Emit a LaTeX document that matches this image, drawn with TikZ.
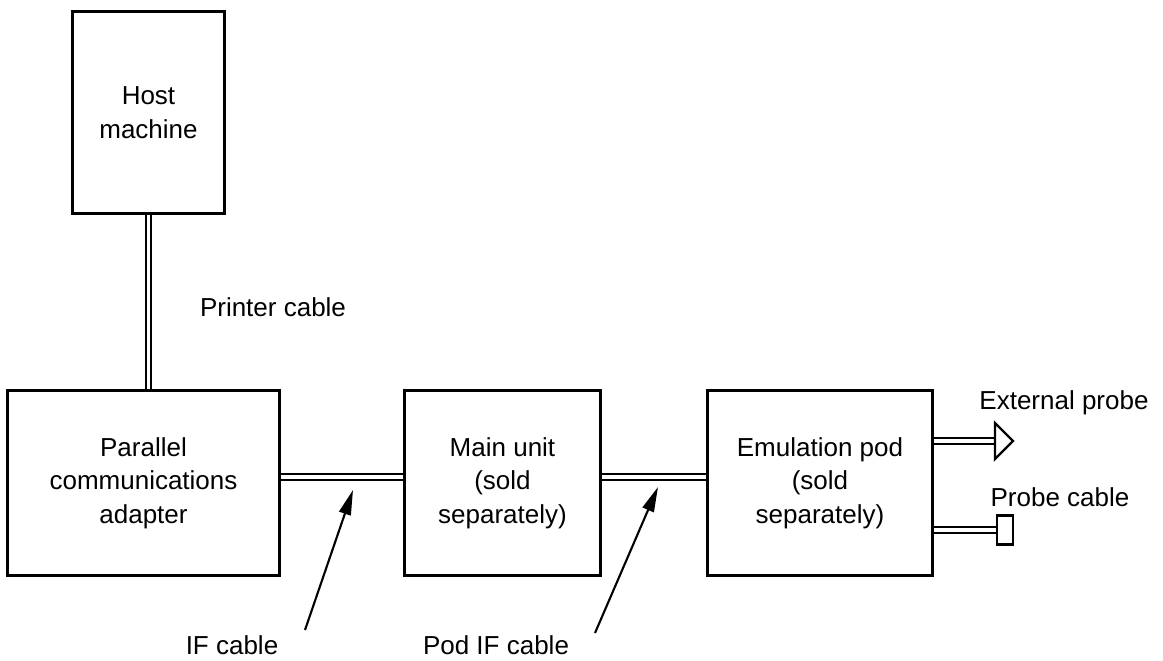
\documentclass[tikz,border=0pt]{standalone}
\usepackage{fontspec}
\setmainfont{Liberation Sans}
\usetikzlibrary{arrows.meta}

\begin{document}
\begin{tikzpicture}[x=0.02cm, y=-0.02cm,
    box/.style={draw, line width=1.7pt, align=center, inner sep=0pt,
      font=\fontsize{14.8}{19}\selectfont},
    lbl/.style={inner sep=0pt, font=\fontsize{14.8}{19}\selectfont},
    cable/.style={double, line width=1.2pt, double distance=2.1pt},
    pointer/.style={line width=1.2pt, -{Triangle[length=0.5cm,width=0.24cm]}}]
  \useasboundingbox (0,0) rectangle (1163,661);
  % units
  \node[box, minimum width=3.06cm, minimum height=4.06cm] (host) at (148.5,112.5) {Host\\machine};
  \node[box, minimum width=5.46cm, minimum height=3.72cm] (pca) at (143.5,483) {Parallel\\communications\\adapter};
  \node[box, minimum width=3.94cm, minimum height=3.72cm] (main) at (502.5,483) {Main unit\\(sold\\separately)};
  \node[box, minimum width=4.52cm, minimum height=3.72cm] (pod) at (820,483) {Emulation pod\\(sold\\separately)};
  \node[draw, line width=1.3pt, inner sep=0pt, minimum width=0.32cm, minimum height=0.58cm] (plug) at (1005,530) {};
  \coordinate (ext) at (995,441);
  % cables
  \draw[cable] (host.south) -- (host.south |- pca.north);
  \draw[cable] ([yshift=0.12cm]pca.east) -- ([yshift=0.12cm]main.west);
  \draw[cable] ([yshift=0.12cm]main.east) -- ([yshift=0.12cm]pod.east -| pod.west);
  \draw[cable] (pod.east |- ext) -- (ext);
  \draw[cable] (pod.east |- plug.west) -- (plug.west);
  \draw[line width=1.3pt, line join=miter] (ext) -- ++(0,-18) -- ++(18,18) -- ++(-18,18) -- cycle;
  % labels
  \node[lbl] (printer lbl) at (273,307) {Printer cable};
  \node[lbl] (ext lbl) at (1064,403) {External probe};
  \node[lbl] (probe lbl) at (1060,497) {Probe cable};
  \node[lbl] (if lbl) at (232,645) {IF cable};
  \node[lbl] (podif lbl) at (496,645) {Pod IF cable};
  \coordinate (if tail) at (305,630);
  \coordinate (if tip) at (353,490);
  \coordinate (podif tail) at (595,633);
  \coordinate (podif tip) at (658,487);
  \draw[pointer] (if tail) -- (if tip);
  \draw[pointer] (podif tail) -- (podif tip);
\end{tikzpicture}
\end{document}
